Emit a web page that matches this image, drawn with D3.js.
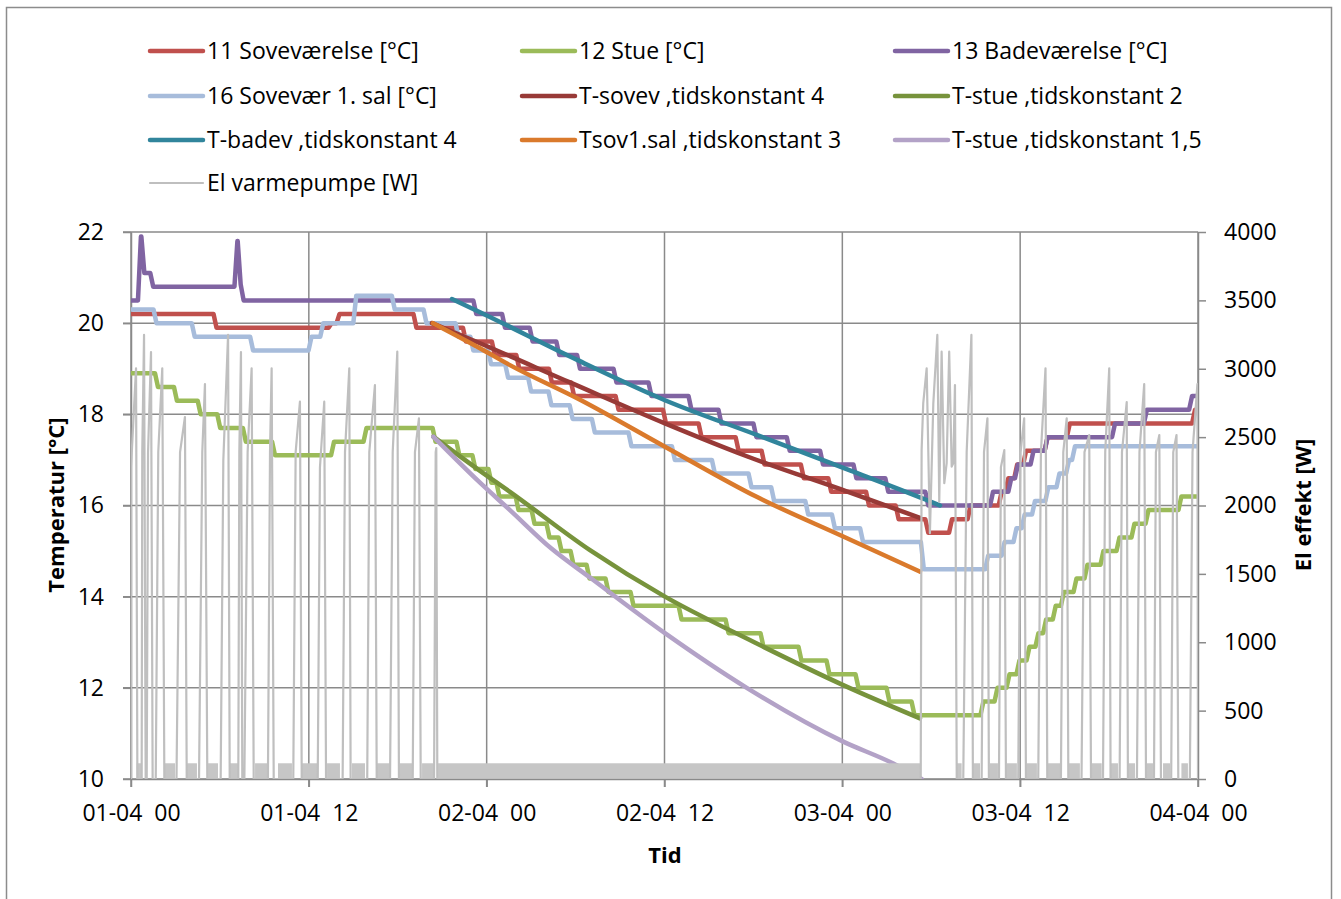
<!DOCTYPE html>
<html>
<head>
<meta charset="utf-8">
<script src="https://cdn.jsdelivr.net/npm/d3@7/dist/d3.min.js"></script>
<style>
  body { margin: 0; background: #fff; }
  text { font-family: "Open Sans", Lato, sans-serif; fill: #000; white-space: pre; }
</style>
</head>
<body>
<svg id="chart"></svg>
<script>
const W = 1341, H = 899;

// akser
const tidTicks = [0, 12, 24, 36, 48, 60, 72];
const tidLabels = ["01-04  00", "01-04  12", "02-04  00", "02-04  12", "03-04  00", "03-04  12", "04-04  00"];
const tempTicks = [10, 12, 14, 16, 18, 20, 22];
const effektTicks = [0, 500, 1000, 1500, 2000, 2500, 3000, 3500, 4000];

// målte temperaturer [timer, °C] - trin
const sovevaerelse = [[0,20.2],[5.67,19.9],[13.43,20.0],[13.97,20.2],[19.16,19.9],[22.5,19.6],[24.45,19.3],[26.1,19.0],[28.3,18.7],[29.8,18.4],[32.8,18.1],[36.0,17.8],[38.4,17.5],[40.9,17.2],[42.65,16.9],[45.3,16.6],[47.15,16.3],[49.7,16.0],[51.7,15.7],[53.7,15.4],[55.3,15.7],[56.55,16.0],[58.65,16.3],[59.1,16.6],[59.7,16.9],[60.3,17.2],[61.75,17.5],[63.25,17.8],[71.7,18.1],[72,18.1]];
const stue = [[0,18.9],[1.72,18.6],[3.0,18.3],[4.6,18.0],[5.92,17.7],[7.65,17.4],[9.62,17.1],[13.6,17.4],[15.79,17.7],[20.45,17.4],[22.06,17.1],[23.14,16.8],[24.22,16.5],[24.76,16.2],[26.05,15.9],[27.13,15.6],[28.14,15.3],[28.95,15.0],[29.76,14.7],[30.84,14.4],[32.12,14.1],[33.81,13.8],[37.05,13.5],[40.22,13.2],[42.58,12.9],[45.14,12.6],[47.03,12.3],[48.99,12.0],[51.08,11.7],[52.77,11.4],[57.42,11.7],[58.37,12.0],[59.18,12.3],[59.85,12.6],[60.53,12.9],[61.13,13.2],[61.65,13.5],[62.3,13.8],[62.85,14.1],[63.7,14.4],[64.44,14.7],[65.52,15.0],[66.6,15.3],[67.61,15.6],[68.56,15.9],[70.78,16.2],[72,16.2]];
const badevaerelse = [[0,20.5],[0.57,21.9],[0.8,21.1],[1.4,20.8],[7.08,21.8],[7.3,20.85],[7.5,20.5],[23.2,20.2],[25.14,19.9],[27.0,19.6],[28.8,19.3],[30.2,19.0],[32.66,18.7],[35.02,18.4],[37.72,18.1],[39.74,17.8],[42.1,17.5],[44.35,17.2],[46.6,16.9],[48.85,16.6],[51.0,16.3],[53.7,16.0],[58.07,16.3],[59.3,16.6],[59.75,16.9],[60.8,17.2],[61.75,17.5],[66.3,17.8],[68.45,18.1],[71.5,18.4],[72,18.4]];
const sovevaer1sal = [[0,20.3],[1.62,20.0],[4.2,19.7],[8.14,19.4],[12.08,19.7],[12.87,20.0],[15.1,20.6],[17.7,20.3],[19.84,20.0],[22.0,19.7],[23.0,19.4],[24.2,19.1],[25.35,18.8],[26.9,18.5],[28.27,18.2],[29.7,17.9],[31.2,17.6],[33.67,17.3],[36.6,17.0],[39.3,16.7],[41.77,16.4],[43.3,16.1],[45.6,15.8],[47.4,15.5],[49.3,15.2],[53.4,14.6],[57.74,14.9],[58.85,15.2],[59.65,15.5],[60.2,15.8],[60.9,16.1],[61.8,16.4],[62.55,16.7],[63.2,17.0],[63.6,17.3],[72,17.3]];

// modelkurver [timer, °C]
const tSovev = [[20.31,20.0],[23.55,19.56],[29.62,18.7],[36.03,17.8],[41.55,17.08],[48.29,16.31],[53.24,15.73]];
const tStue2 = [[20.4,17.51],[23.55,16.76],[25.57,16.3],[30.97,15.02],[36.03,14.0],[41.99,13.01],[48.06,12.06],[53.24,11.33]];
const tBadev = [[21.66,20.53],[23.55,20.24],[30.07,19.2],[36.03,18.31],[42.22,17.55],[48.29,16.8],[53.69,16.12],[54.59,16.0]];
const tSov1 = [[20.38,20.0],[23.55,19.45],[25.57,19.08],[30.3,18.32],[36.03,17.29],[42.22,16.19],[48.06,15.32],[53.24,14.55]];
const tStue15 = [[20.4,17.51],[23.55,16.5],[25.57,15.9],[28.39,15.05],[30.97,14.42],[36.03,13.2],[41.55,12.0],[48.06,10.82],[51.44,10.34],[53.35,10.0]];

// el varmepumpe: cyklus [start, knæ-tid, knæ W, top-tid, top W, slut]
const pumpeCykler = [
  [0,0,2280,0.34,3003,0.43],[0.72,0.76,2390,0.88,3247,0.99],[1.06,1.15,2390,1.35,3122,1.46],
  [1.67,1.84,2390,2.11,3003,2.25],[3.07,3.31,2390,3.64,2647,3.76],[4.59,4.81,2390,4.99,2888,5.15],
  [6.05,6.23,2330,6.55,3247,6.66],[7.24,7.31,2390,7.42,3122,7.51],[7.65,7.87,2390,8.14,3003,8.28],
  [9.24,9.38,2390,9.49,3003,9.63],[10.95,11.11,2390,11.4,2759,11.52],[12.6,12.75,2280,13.04,2759,13.16],
  [14.28,14.44,2390,14.73,3003,14.82],[15.94,16.08,2390,16.46,2881,16.58],[17.48,17.66,2390,17.97,3125,18.08],
  [19.01,19.16,2390,19.43,2638,19.55],[20.45,20.56,2390,20.6,2420,20.67],
  [56.16,56.39,2390,56.71,3247,56.81],[57.4,57.56,2390,57.79,2638,57.89],[58.57,58.7,2280,58.93,2405,59.04],
  [59.87,60.03,2390,60.27,2638,60.39],[61.22,61.4,2390,61.71,3003,61.83],[62.75,62.91,2390,63.14,2638,63.25],
  [64.14,64.34,2390,64.66,2515,64.78],[65.59,65.74,2390,66.01,3003,66.1],[66.71,66.87,2390,67.19,2757,67.27],
  [67.88,68.05,2390,68.37,2888,68.49],[69.03,69.16,2390,69.39,2515,69.5],[70.19,70.33,2390,70.55,2515,70.67],
  [71.45,71.63,2390,71.96,2888,72.0]
];
// opstart efter natsænkning [timer, W]
const pumpeOpstart = [[53.29,0],[53.35,2405],[53.46,2749],[53.69,3003],[53.91,1797],[54.14,2749],[54.41,3247],[54.54,2028],[54.7,3125],[54.88,2163],[55.04,2310],[55.21,3125],[55.38,2284],[55.49,2310],[55.6,2881],[55.72,0]];
// standby-perioder [fra, til] timer, niveau i W
const standby = [[0.38,0.72],[2.29,2.97],[3.78,4.45],[5.2,5.87],[6.66,7.22],[8.37,9.24],[9.92,10.86],[11.54,12.55],[13.23,14.1],[14.91,15.79],[16.6,17.48],[18.15,18.96],[19.64,20.38],[20.72,53.24],[55.72,56.05],[56.81,57.29],[57.96,58.5],[59.09,59.78],[60.44,61.13],[61.88,62.69],[63.29,64.03],[64.82,65.5],[66.13,66.6],[67.29,67.75],[68.54,68.96],[69.64,70.11],[70.88,71.32]];
const standbyW = 115;

const gridColor = "#8a8a8a";
const grey = "#bfbfbf";

const series = [
  { name: "11 Soveværelse [°C]", data: sovevaerelse, color: "#C0504D", step: true },
  { name: "12 Stue [°C]", data: stue, color: "#9BBB59", step: true },
  { name: "13 Badeværelse [°C]", data: badevaerelse, color: "#8064A2", step: true },
  { name: "16 Sovevær 1. sal [°C]", data: sovevaer1sal, color: "#A7BCDB", step: true },
  { name: "T-sovev ,tidskonstant 4", data: tSovev, color: "#983A37" },
  { name: "T-stue ,tidskonstant 2", data: tStue2, color: "#77933C" },
  { name: "T-badev ,tidskonstant 4", data: tBadev, color: "#31859C" },
  { name: "Tsov1.sal ,tidskonstant 3", data: tSov1, color: "#DA7A2C" },
  { name: "T-stue ,tidskonstant 1,5", data: tStue15, color: "#B3A2C7" }
];

const x = d3.scaleLinear().domain([0, 72]).range([131, 1198]);
const yT = d3.scaleLinear().domain([10, 22]).range([779, 232]);
const yW = d3.scaleLinear().domain([0, 4000]).range([779, 232]);

const svg = d3.select("#chart").attr("width", W).attr("height", H);

svg.append("rect")
  .attr("x", 6.5).attr("y", 7.5).attr("width", 1325).attr("height", 905)
  .attr("fill", "#fff").attr("stroke", "#8c8c8c").attr("stroke-width", 1.5);

svg.append("clipPath").attr("id", "plot")
  .append("rect").attr("x", x(0)).attr("y", yT(22) - 6).attr("width", x(72) - x(0)).attr("height", yT(10) - yT(22) + 6);

// gitter
const grid = svg.append("g").attr("stroke", gridColor).attr("stroke-width", 1.5);
grid.selectAll(".h").data(tempTicks).enter().append("line")
  .attr("x1", x(0) - 8).attr("x2", x(72))
  .attr("y1", d => yT(d)).attr("y2", d => yT(d));
grid.selectAll(".v").data(tidTicks).enter().append("line")
  .attr("x1", d => x(d)).attr("x2", d => x(d))
  .attr("y1", yT(22)).attr("y2", yT(10) + 8);

// akser
function styleAxis(g) {
  g.select(".domain").attr("stroke", gridColor).attr("stroke-width", 1.5);
  g.selectAll(".tick line").attr("stroke", gridColor).attr("stroke-width", 1.5);
  g.selectAll(".tick text").style("font-size", "23px").attr("fill", "#000");
}
svg.append("g").attr("transform", `translate(${x(0)},0)`)
  .call(d3.axisLeft(yT).tickValues(tempTicks).tickSize(8).tickSizeOuter(0).tickPadding(19))
  .call(styleAxis);
svg.append("g").attr("transform", `translate(${x(72)},0)`)
  .call(d3.axisRight(yW).tickValues(effektTicks).tickFormat(d3.format("d")).tickSize(8).tickSizeOuter(0).tickPadding(18))
  .call(styleAxis);
svg.append("g").attr("transform", `translate(0,${yT(10)})`)
  .call(d3.axisBottom(x).tickValues(tidTicks).tickFormat((d, i) => tidLabels[i]).tickSize(8).tickSizeOuter(0).tickPadding(18))
  .call(styleAxis);

// aksetitler
svg.append("text").attr("transform", `translate(64,505) rotate(-90)`)
  .attr("text-anchor", "middle").style("font-size", "22px").style("font-weight", "bold")
  .text("Temperatur [°C]");
svg.append("text").attr("transform", `translate(1311,505) rotate(-90)`)
  .attr("text-anchor", "middle").style("font-size", "22px").style("font-weight", "bold")
  .text("El effekt [W]");
svg.append("text").attr("x", 665).attr("y", 863)
  .attr("text-anchor", "middle").style("font-size", "22px").style("font-weight", "bold")
  .text("Tid");

// trin med kort overgang mellem målinger
const ramp = 0.2;
function trappe(data) {
  const pts = [data[0]];
  for (let i = 1; i < data.length; i++) {
    const [t, v] = data[i], prev = data[i - 1][1];
    pts.push([t - ramp / 2, prev], [t + ramp / 2, v]);
  }
  return pts;
}

const plot = svg.append("g").attr("clip-path", "url(#plot)");
const lineStep = d3.line().x(d => x(d[0])).y(d => yT(d[1]));
const lineSmooth = d3.line().x(d => x(d[0])).y(d => yT(d[1])).curve(d3.curveMonotoneX);

series.forEach(s => {
  plot.append("path")
    .attr("d", s.step ? lineStep(trappe(s.data)) : lineSmooth(s.data))
    .attr("fill", "none").attr("stroke", s.color).attr("stroke-width", 4.5)
    .attr("stroke-linejoin", "round").attr("stroke-linecap", "round");
});

// el varmepumpe
plot.selectAll(".standby").data(standby).enter().append("rect")
  .attr("x", d => x(d[0])).attr("width", d => x(d[1]) - x(d[0]))
  .attr("y", yW(standbyW)).attr("height", yW(0) - yW(standbyW))
  .attr("fill", "#c6c6c6");

const pumpe = [];
pumpeCykler.forEach(c => {
  pumpe.push([c[0], 0], [c[1], c[2]], [c[3], c[4]], [c[5], 0]);
});
pumpeOpstart.forEach(p => pumpe.push(p));
pumpe.sort((a, b) => a[0] - b[0]);

plot.append("path")
  .attr("d", d3.line().x(d => x(d[0])).y(d => yW(d[1]))(pumpe))
  .attr("fill", "none").attr("stroke", grey).attr("stroke-width", 2.2)
  .attr("stroke-linejoin", "round");

// forklaring
const legendItems = series.map(s => ({ name: s.name, color: s.color, w: 4.5 }))
  .concat([{ name: "El varmepumpe [W]", color: grey, w: 2.2 }]);
const colX = [148, 520, 893];
const rowY = [51, 96, 140, 183];
const leg = svg.append("g");
legendItems.forEach((d, i) => {
  const lx = colX[i % 3], ly = rowY[Math.floor(i / 3)];
  leg.append("line").attr("x1", lx + 2).attr("x2", lx + 55).attr("y1", ly).attr("y2", ly)
    .attr("stroke", d.color).attr("stroke-width", d.w).attr("stroke-linecap", "round");
  leg.append("text").attr("x", lx + 59).attr("y", ly + 8).style("font-size", "23px").text(d.name);
});
</script>
</body>
</html>
